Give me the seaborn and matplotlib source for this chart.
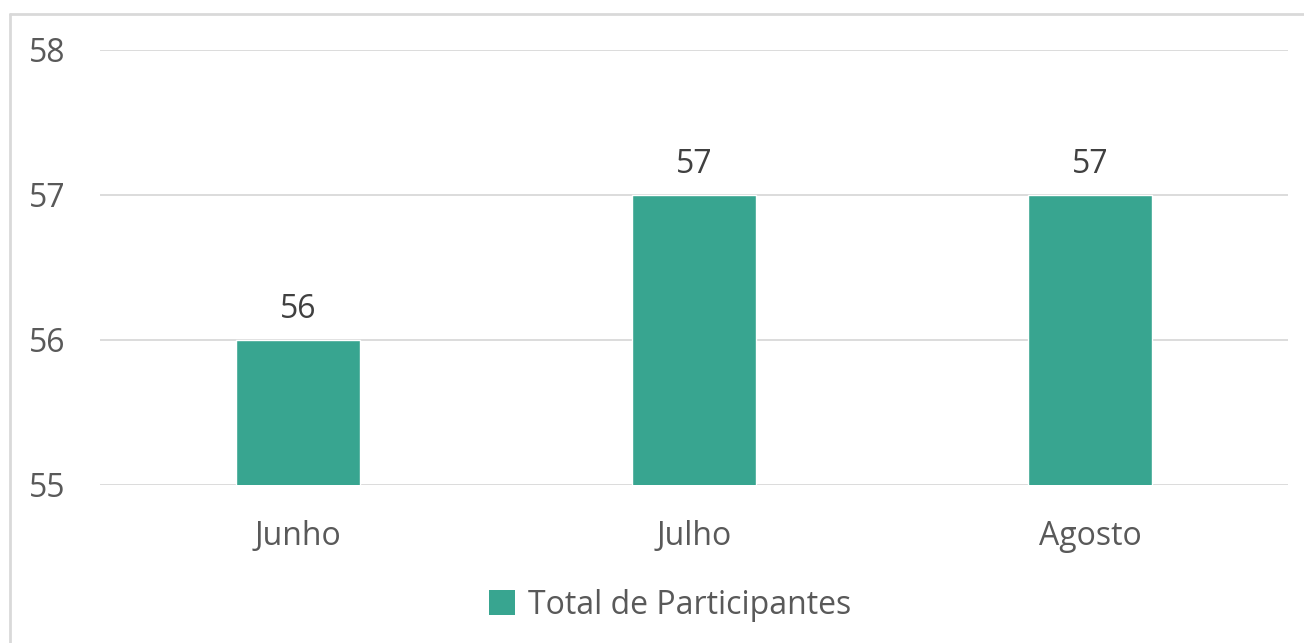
import matplotlib
matplotlib.use("Agg")
import matplotlib.pyplot as plt
import seaborn as sns
import pandas as pd
from matplotlib.lines import Line2D
from matplotlib.patches import Patch

months = ["Junho", "Julho", "Agosto"]
participants = [56, 57, 57]
series_name = "Total de Participantes"
y_ticks = [55, 56, 57, 58]

sns.set_theme(style="white")
plt.rcParams['font.family'] = ['Open Sans', 'DejaVu Sans']

W, H = 1304, 643
fig = plt.figure(figsize=(W / 100, H / 100), dpi=100)
ax = fig.add_axes([100 / W, 1 - 485 / H, 1188 / W, (485 - 50) / H])

bar_color = "#38A590"
text_color = "#595959"
grid_color = "#D9D9D9"

df = pd.DataFrame({"Mês": months, "Participantes": participants})
sns.barplot(data=df, x="Mês", y="Participantes", color=bar_color, width=0.313,
            saturation=1, ax=ax, zorder=3)

ax.set_ylim(55, 58)
ax.set_yticks(y_ticks)
ax.set_yticklabels([str(t) for t in y_ticks])
ax.yaxis.grid(True, color=grid_color, linewidth=1.3, zorder=0)
ax.set_axisbelow(True)
for s in ax.spines.values():
    s.set_visible(False)
ax.set_xlabel("")
ax.set_ylabel("")
ax.tick_params(axis="y", length=0, pad=34, labelsize=23, labelcolor=text_color)
ax.tick_params(axis="x", length=0, pad=25, labelsize=23, labelcolor=text_color)
for lbl in ax.get_yticklabels():
    lbl.set_horizontalalignment("left")
    lbl.set_x(-71 / 1188)
ax.yaxis.set_tick_params(pad=0)

for c in ax.containers:
    ax.bar_label(c, labels=[str(v) for v in participants], padding=10,
                 fontsize=23, color="#404040")

handle = Patch(facecolor=bar_color, edgecolor="none")
fig.legend([handle], [series_name], loc="center", bbox_to_anchor=(670 / W, 1 - 605 / H),
           frameon=False, fontsize=23, labelcolor=text_color, handlelength=0.8,
           handleheight=0.8, handletextpad=0.4)

# outer chart border (top and left visible)
fig.add_artist(Line2D([10 / W, 1.0], [1 - 14 / H, 1 - 14 / H], color=grid_color,
                      linewidth=2, transform=fig.transFigure))
fig.add_artist(Line2D([10 / W, 10 / W], [0, 1 - 14 / H], color=grid_color,
                      linewidth=2, transform=fig.transFigure))

fig.savefig("out.png", dpi=100, facecolor="white")
